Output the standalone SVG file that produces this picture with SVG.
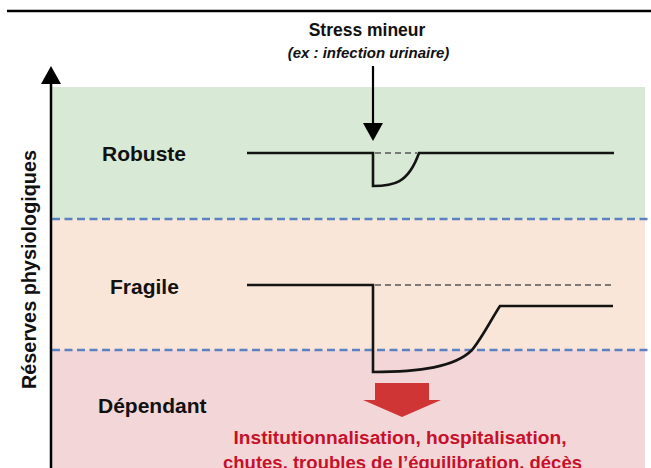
<svg xmlns="http://www.w3.org/2000/svg" width="651" height="468" viewBox="0 0 651 468">
  <style>
    .lbl { font-family: "Liberation Sans", Arial, sans-serif; font-weight: bold; fill: #111; }
    .red { font-family: "Liberation Sans", Arial, sans-serif; font-weight: bold; fill: #c8102a; font-size: 18px; }
    .band-sep { stroke: #5b82c0; stroke-width: 2.5; stroke-dasharray: 8 4.5; fill: none; }
    .curve { stroke: #141414; stroke-width: 2.6; fill: none; stroke-linejoin: miter; }
    .ref { stroke: #555; stroke-width: 1.3; stroke-dasharray: 6 4; fill: none; }
  </style>
  <defs>
    <marker id="head" markerUnits="userSpaceOnUse" markerWidth="20" markerHeight="20" viewBox="0 0 18 20" refX="0" refY="10" orient="auto">
      <path d="M0,0 L18,10 L0,20 z" fill="#000"/>
    </marker>
  </defs>

  <rect width="651" height="468" fill="#ffffff"/>

  <!-- bands -->
  <g id="band-robuste">
    <rect x="52" y="87" width="593" height="132" fill="#d8ead6"/>
    <text class="lbl" x="102" y="161" font-size="21">Robuste</text>
  </g>
  <g id="band-fragile">
    <rect x="52" y="219" width="593" height="131" fill="#fae6d8"/>
    <text class="lbl" x="110" y="294" font-size="21">Fragile</text>
  </g>
  <g id="band-dependant">
    <rect x="52" y="350" width="593" height="118" fill="#f3d7d8"/>
    <text class="lbl" x="98" y="413" font-size="21">Dépendant</text>
  </g>

  <!-- top rule -->
  <line x1="7" y1="11" x2="651" y2="11" stroke="#000" stroke-width="2.5"/>

  <!-- stress label -->
  <g id="stress">
    <text class="lbl" x="367" y="36" font-size="17.5" text-anchor="middle">Stress mineur</text>
    <text class="lbl" x="368.5" y="58" font-size="15" font-style="italic" text-anchor="middle">(ex : infection urinaire)</text>
  </g>

  <!-- axis label -->
  <g id="axis-label">
    <text class="lbl" transform="translate(36,269.5) rotate(-90)" font-size="20" text-anchor="middle" textLength="239" lengthAdjust="spacingAndGlyphs">Réserves physiologiques</text>
  </g>

  <!-- outcome -->
  <g id="outcome">
    <polygon points="375,383 429,383 429,400 441,400 402,417 363,400 375,400" fill="#cf3535"/>
    <text class="red" x="400" y="444" text-anchor="middle" textLength="333" lengthAdjust="spacingAndGlyphs">Institutionnalisation, hospitalisation,</text>
    <text class="red" x="402.5" y="469" text-anchor="middle" textLength="359" lengthAdjust="spacingAndGlyphs">chutes, troubles de l’équilibration, décès</text>
  </g>

  <!-- connectors -->
  <g id="connectors">
    <line class="band-sep" x1="52" y1="219" x2="651" y2="219"/>
    <line class="band-sep" x1="52" y1="350" x2="651" y2="350"/>
    <line x1="51" y1="468" x2="51" y2="84" stroke="#000" stroke-width="2.5" marker-end="url(#head)"/>
    <line x1="373" y1="66" x2="373" y2="123" stroke="#000" stroke-width="2.2" marker-end="url(#head)"/>
    <line class="ref" x1="375" y1="153" x2="417" y2="153"/>
    <line class="ref" x1="375" y1="285" x2="613" y2="285"/>
    <path class="curve" d="M247,153 L373,153 L373,186 C393,186 408,184 419,153 L614,153"/>
    <path class="curve" d="M247,285 L373,285 L373,372 C420,372 455,367 472,350 C482,338 492,318 500,306 L613,306"/>
  </g>
</svg>
